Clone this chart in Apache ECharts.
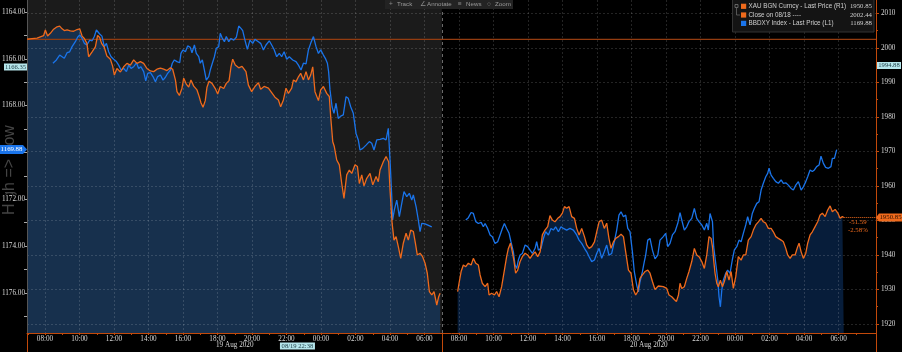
<!DOCTYPE html>
<html><head><meta charset="utf-8">
<script src="https://cdn.jsdelivr.net/npm/echarts@6/dist/echarts.min.js"></script>
<style>html,body{margin:0;padding:0;background:#000;}#c{width:902px;height:352px;}</style>
</head><body><div id="c"></div>
<script>
// ---- time is in hours since 19 Aug 2020 00:00 ----
const xauDay1 = [[6.96,2002.5],[7.54,2002.8],[7.92,2003.5],[8.02,2005.2],[8.15,2003.4],[8.31,2004.2],[8.50,2005.4],[8.70,2006.1],[8.85,2006.3],[8.99,2005.5],[9.12,2005.0],[9.28,2005.2],[9.47,2004.9],[9.66,2004.8],[9.86,2005.3],[10.01,2005.5],[10.15,2003.4],[10.28,2002.7],[10.43,2001.3],[10.53,1997.4],[10.63,1996.9],[10.74,1998.9],[10.92,2000.3],[11.05,2003.6],[11.17,2003.0],[11.28,2001.3],[11.44,2000.1],[11.59,1997.6],[11.79,1996.7],[11.92,1994.7],[12.02,1992.1],[12.17,1994.0],[12.37,1993.0],[12.56,1994.5],[12.75,1995.5],[12.95,1995.0],[13.14,1996.5],[13.33,1995.5],[13.53,1996.0],[13.72,1995.5],[13.91,1994.0],[14.11,1993.3],[14.30,1993.1],[14.49,1993.8],[14.69,1994.1],[14.88,1993.8],[15.07,1993.4],[15.27,1994.2],[15.40,1993.8],[15.56,1990.7],[15.65,1987.3],[15.79,1986.2],[15.94,1988.3],[16.04,1991.2],[16.19,1989.5],[16.33,1988.6],[16.46,1990.7],[16.62,1988.9],[16.81,1987.8],[16.93,1986.0],[17.04,1984.1],[17.16,1982.8],[17.29,1984.7],[17.39,1988.6],[17.51,1990.3],[17.68,1989.7],[17.87,1988.2],[18.01,1986.6],[18.16,1988.8],[18.36,1988.2],[18.51,1989.7],[18.67,1990.5],[18.78,1994.5],[18.88,1996.7],[19.03,1995.0],[19.23,1994.2],[19.42,1994.6],[19.50,1994.5],[19.65,1993.1],[19.79,1989.2],[19.98,1987.3],[20.17,1988.8],[20.37,1989.9],[20.50,1988.0],[20.70,1988.8],[20.95,1988.3],[21.14,1987.0],[21.33,1985.7],[21.53,1984.9],[21.66,1982.9],[21.82,1984.9],[21.97,1988.3],[22.11,1986.8],[22.30,1988.3],[22.40,1990.7],[22.55,1990.2],[22.69,1991.6],[22.82,1992.6],[22.98,1990.7],[23.13,1993.1],[23.27,1990.7],[23.40,1992.1],[23.52,1994.5],[23.65,1987.3],[23.85,1984.7],[23.98,1987.8],[24.14,1988.8],[24.33,1986.8],[24.48,1985.9],[24.56,1980.1],[24.68,1972.8],[24.77,1971.4],[24.91,1967.5],[25.06,1966.1],[25.20,1960.7],[25.33,1956.4],[25.49,1963.2],[25.64,1964.6],[25.78,1963.6],[25.97,1966.1],[26.11,1965.6],[26.22,1960.7],[26.36,1963.2],[26.49,1960.0],[26.65,1962.2],[26.84,1963.6],[27.00,1960.3],[27.19,1962.7],[27.32,1961.2],[27.42,1964.6],[27.61,1967.0],[27.77,1968.5],[27.92,1967.0],[28.00,1958.8],[28.12,1949.2],[28.23,1944.3],[28.35,1945.3],[28.48,1942.4],[28.62,1939.0],[28.77,1943.4],[28.93,1946.3],[29.06,1944.3],[29.20,1947.2],[29.35,1946.8],[29.47,1943.4],[29.58,1940.0],[29.74,1940.5],[29.89,1939.5],[30.03,1937.6],[30.16,1934.7],[30.28,1929.4],[30.42,1928.4],[30.55,1929.4],[30.71,1925.5],[30.82,1927.9],[30.90,1928.9]];
const xauDay2 = [[31.92,1929.4],[32.00,1931.8],[32.12,1935.2],[32.25,1937.1],[32.39,1936.6],[32.54,1937.6],[32.70,1937.1],[32.83,1939.0],[32.97,1937.6],[33.12,1937.1],[33.22,1934.2],[33.35,1931.8],[33.51,1930.8],[33.66,1931.8],[33.74,1928.4],[33.89,1928.9],[34.05,1928.4],[34.18,1929.4],[34.32,1927.9],[34.47,1930.8],[34.63,1935.6],[34.76,1939.5],[34.86,1941.9],[34.98,1943.4],[35.09,1940.9],[35.19,1938.1],[35.28,1934.7],[35.40,1935.6],[35.54,1938.1],[35.67,1939.5],[35.83,1940.5],[35.98,1940.0],[36.12,1939.0],[36.25,1940.0],[36.41,1940.9],[36.56,1939.5],[36.70,1940.9],[36.83,1945.8],[36.98,1947.2],[37.14,1948.2],[37.27,1951.4],[37.41,1950.1],[37.56,1949.6],[37.72,1950.6],[37.85,1951.1],[37.99,1952.1],[38.11,1954.0],[38.24,1953.5],[38.38,1954.0],[38.53,1951.1],[38.69,1950.6],[38.82,1947.7],[38.96,1945.8],[39.11,1947.7],[39.27,1945.3],[39.40,1942.9],[39.54,1941.9],[39.69,1942.4],[39.85,1943.8],[39.98,1946.7],[40.12,1949.6],[40.27,1950.1],[40.42,1947.7],[40.56,1949.2],[40.69,1944.8],[40.81,1941.9],[40.95,1943.8],[41.08,1944.8],[41.24,1945.3],[41.39,1946.0],[41.53,1945.3],[41.66,1940.9],[41.82,1935.6],[41.97,1934.7],[42.11,1929.9],[42.24,1928.4],[42.36,1929.4],[42.49,1933.2],[42.63,1934.2],[42.78,1935.2],[42.94,1935.6],[43.07,1934.7],[43.21,1932.3],[43.36,1930.0],[43.55,1931.0],[43.84,1930.8],[44.04,1930.3],[44.17,1928.4],[44.33,1927.9],[44.48,1927.1],[44.60,1926.5],[44.72,1928.4],[44.81,1931.8],[44.91,1930.3],[45.06,1930.8],[45.20,1933.2],[45.33,1935.2],[45.49,1938.1],[45.64,1941.9],[45.78,1940.0],[45.91,1939.5],[46.07,1938.1],[46.22,1936.1],[46.36,1940.0],[46.49,1945.3],[46.61,1944.8],[46.69,1942.4],[46.76,1938.5],[46.84,1934.7],[46.94,1931.8],[47.03,1930.8],[47.15,1932.7],[47.27,1930.8],[47.38,1932.3],[47.52,1935.2],[47.65,1932.7],[47.77,1935.2],[47.90,1930.3],[48.04,1933.7],[48.19,1939.5],[48.35,1938.5],[48.48,1940.0],[48.62,1940.0],[48.77,1944.3],[48.93,1945.3],[49.06,1947.2],[49.20,1948.7],[49.35,1949.6],[49.51,1950.6],[49.64,1949.6],[49.78,1949.2],[49.93,1947.7],[50.09,1947.7],[50.22,1946.7],[50.36,1945.3],[50.51,1944.8],[50.67,1944.3],[50.80,1943.8],[50.94,1941.9],[51.05,1940.0],[51.19,1939.0],[51.32,1940.0],[51.48,1940.0],[51.63,1942.4],[51.71,1943.4],[51.83,1940.9],[51.96,1939.0],[52.10,1940.5],[52.21,1943.4],[52.35,1945.8],[52.48,1946.7],[52.64,1948.2],[52.79,1949.6],[52.93,1951.6],[53.06,1952.1],[53.22,1951.1],[53.37,1953.0],[53.51,1954.2],[53.64,1952.5],[53.80,1953.2],[53.95,1952.2],[54.09,1950.6],[54.22,1951.1],[54.30,1950.85]];
const dxyDay1 = [[8.46,1166.19],[8.66,1166.05],[8.85,1165.84],[8.99,1165.91],[9.12,1165.98],[9.28,1165.74],[9.43,1165.70],[9.57,1165.48],[9.76,1165.27],[9.89,1165.08],[10.01,1164.98],[10.15,1165.13],[10.28,1165.34],[10.43,1165.41],[10.59,1165.20],[10.73,1165.23],[10.86,1165.05],[10.98,1164.77],[11.05,1164.70],[11.17,1164.94],[11.30,1165.03],[11.44,1165.48],[11.56,1165.34],[11.69,1165.70],[11.83,1165.91],[11.98,1166.02],[12.14,1166.12],[12.27,1166.27],[12.41,1166.48],[12.56,1166.41],[12.72,1166.55],[12.85,1166.27],[12.99,1166.41],[13.14,1166.34],[13.30,1166.17],[13.43,1166.41],[13.56,1166.34],[13.72,1166.55],[13.84,1166.94],[13.95,1166.62],[14.11,1166.59],[14.26,1166.76],[14.40,1166.98],[14.53,1166.76],[14.69,1166.69],[14.84,1166.91],[14.98,1166.79],[15.11,1166.62],[15.27,1166.48],[15.38,1166.19],[15.50,1166.05],[15.65,1166.12],[15.81,1166.17],[15.88,1165.77],[16.00,1165.62],[16.14,1165.70],[16.27,1165.45],[16.42,1165.51],[16.52,1165.74],[16.66,1165.41],[16.77,1165.77],[16.91,1165.91],[17.00,1166.19],[17.12,1166.05],[17.24,1166.48],[17.35,1166.91],[17.49,1166.76],[17.58,1166.48],[17.70,1166.19],[17.82,1165.91],[17.93,1165.55],[18.07,1165.48],[18.16,1164.91],[18.28,1165.13],[18.40,1165.27],[18.51,1165.05],[18.65,1165.27],[18.78,1165.13],[18.94,1165.20],[19.09,1165.08],[19.23,1164.60],[19.36,1164.70],[19.46,1164.80],[19.59,1165.20],[19.73,1165.60],[19.88,1165.20],[20.04,1165.34],[20.17,1165.17],[20.37,1165.27],[20.50,1165.34],[20.66,1165.62],[20.81,1165.41],[21.00,1165.23],[21.14,1165.41],[21.28,1165.60],[21.43,1165.91],[21.58,1165.77],[21.72,1165.91],[21.86,1165.70],[22.01,1166.02],[22.16,1165.91],[22.36,1166.05],[22.55,1166.12],[22.69,1166.27],[22.84,1166.48],[22.98,1166.19],[23.13,1166.22],[23.27,1165.62],[23.40,1165.34],[23.56,1165.05],[23.71,1165.48],[23.85,1165.77],[23.98,1165.62],[24.14,1165.84],[24.25,1165.98],[24.37,1166.19],[24.44,1166.55],[24.52,1167.33],[24.64,1168.05],[24.75,1168.33],[24.87,1167.90],[25.00,1168.55],[25.14,1168.45],[25.29,1168.40],[25.45,1167.62],[25.58,1167.69],[25.72,1168.05],[25.87,1168.33],[26.03,1169.19],[26.16,1169.47],[26.26,1169.90],[26.42,1169.83],[26.61,1169.69],[26.80,1169.54],[26.94,1169.61],[27.07,1169.90],[27.23,1169.47],[27.42,1169.44],[27.61,1169.40],[27.77,1169.47],[27.90,1168.97],[28.00,1170.33],[28.10,1171.89],[28.15,1172.89],[28.25,1172.46],[28.39,1172.04],[28.54,1172.75],[28.68,1172.18],[28.81,1171.68],[28.97,1171.89],[29.12,1171.75],[29.26,1172.04],[29.35,1171.82],[29.51,1172.32],[29.64,1172.89],[29.74,1173.39],[29.84,1173.03],[30.03,1173.06],[30.42,1173.18]];
const dxyDay2 = [[32.39,1172.89],[32.54,1172.79],[32.70,1172.57],[32.83,1172.61],[32.97,1172.96],[33.12,1173.04],[33.28,1172.99],[33.41,1173.18],[33.51,1173.04],[33.66,1173.25],[33.80,1173.53],[33.93,1173.61],[34.09,1173.89],[34.24,1173.82],[34.38,1173.53],[34.51,1173.25],[34.63,1173.04],[34.76,1173.25],[34.90,1173.46],[35.01,1173.82],[35.15,1174.25],[35.25,1174.82],[35.34,1174.96],[35.44,1174.60],[35.54,1174.39],[35.67,1174.32],[35.83,1173.96],[35.98,1174.03],[36.12,1174.18],[36.25,1174.32],[36.41,1174.10],[36.50,1173.82],[36.60,1174.18],[36.75,1174.10],[36.89,1173.68],[37.02,1173.39],[37.18,1173.53],[37.33,1173.25],[37.47,1173.32],[37.60,1173.18],[37.76,1173.39],[37.91,1173.18],[38.05,1173.25],[38.24,1173.32],[38.43,1173.25],[38.63,1173.32],[38.82,1173.53],[38.96,1173.75],[39.11,1173.89],[39.27,1174.10],[39.40,1174.25],[39.54,1174.46],[39.69,1174.67],[39.85,1174.60],[39.98,1174.32],[40.12,1174.10],[40.27,1174.53],[40.42,1174.25],[40.56,1173.96],[40.69,1174.39],[40.85,1174.32],[41.00,1173.82],[41.14,1173.32],[41.27,1172.68],[41.39,1172.54],[41.53,1172.75],[41.66,1172.68],[41.78,1173.25],[41.91,1173.39],[42.05,1174.25],[42.16,1175.10],[42.30,1175.67],[42.40,1175.96],[42.49,1175.53],[42.63,1175.10],[42.74,1174.67],[42.82,1174.39],[42.94,1173.75],[43.07,1173.68],[43.21,1174.18],[43.36,1174.55],[43.52,1174.39],[43.65,1173.75],[43.84,1173.60],[43.98,1173.46],[44.10,1174.03],[44.23,1173.89],[44.37,1173.53],[44.52,1173.39],[44.68,1173.03],[44.81,1172.58],[44.91,1172.89],[45.06,1173.32],[45.20,1173.18],[45.33,1172.96],[45.49,1172.82],[45.64,1172.39],[45.78,1172.82],[45.91,1172.96],[46.07,1173.10],[46.22,1173.32],[46.36,1173.03],[46.45,1173.32],[46.55,1172.61],[46.69,1172.96],[46.76,1174.03],[46.88,1174.75],[47.00,1175.46],[47.07,1176.17],[47.15,1176.60],[47.23,1175.89],[47.32,1175.46],[47.46,1175.17],[47.57,1175.03],[47.71,1175.17],[47.84,1174.60],[47.96,1174.17],[48.10,1174.03],[48.23,1173.75],[48.35,1173.82],[48.48,1173.46],[48.62,1173.10],[48.73,1172.75],[48.87,1173.10],[49.00,1172.61],[49.12,1172.39],[49.26,1172.18],[49.39,1172.11],[49.51,1171.61],[49.64,1171.32],[49.78,1171.04],[49.89,1170.90],[49.97,1170.68],[50.09,1170.97],[50.22,1171.11],[50.36,1171.25],[50.51,1171.32],[50.67,1171.18],[50.80,1171.32],[50.94,1171.30],[51.09,1171.40],[51.25,1171.54],[51.38,1171.61],[51.52,1171.40],[51.67,1171.25],[51.83,1171.61],[51.96,1171.47],[52.10,1171.25],[52.21,1171.04],[52.35,1170.75],[52.48,1170.82],[52.60,1170.75],[52.73,1170.61],[52.87,1170.54],[52.98,1170.16],[53.12,1170.47],[53.25,1170.64],[53.41,1170.68],[53.56,1170.61],[53.64,1170.26],[53.76,1170.26],[53.89,1169.88]];

const closeValue = 2002.44;            // Close on 08/18
const crossTime = 22 + 38/60;          // crosshair 08/19 22:38
const crossTimeLabel = '08/19 22:38';
const crossDxy = 1166.35, crossXau = 1994.88;
const sessionBreak = 31;               // 20 Aug 07:00

const xLabelHours = [8,10,12,14,16,18,20,22,24,26,28,30,32,34,36,38,40,42,44,46,48,50,52,54];
const xMinorHours = [7,9,11,13,15,17,19,21,23,25,27,29,31,33,35,37,39,41,43,45,47,49,51,53,55];
const dateTicks = [19, 43];
const dateLabels = ['19 Aug 2020', '20 Aug 2020'];
const leftLabels = [1164,1166,1168,1172,1174,1176];
const leftTicks = [1164,1165,1166,1167,1168,1169,1170,1171,1172,1173,1174,1175,1176,1177];
const rightLabels = [1920,1930,1940,1950,1960,1970,1980,1990,2000,2010];
const rightMinor = [1925,1935,1945,1955,1965,1975,1985,1995,2005];
const legendNames = ['XAU BGN Curncy - Last Price (R1)', 'Close on 08/18 ----', 'BBDXY Index - Last Price (L1)'];
const toolbarItems = [['+','Track'],['∠','Annotate'],['≡','News'],['○','Zoom']];

const X_MIN = 6.9565, X_MAX = 56.17;
const R_MIN = 1917.39, R_MAX = 2013.85;
const L_MIN = 1163.487, L_MAX = 1177.72;

const ORANGE = '#ef6a1c', BLUE = '#1a74ea', CYAN = '#b6e6ec', AX_OR = '#c2490a';
const GRIDC = 'rgba(255,255,255,0.14)';
const NUMFONT = 'Liberation Serif';
const SANS = 'Liberation Sans';

const lastXau = xauDay2[xauDay2.length - 1];
const lastDxy = dxyDay2[dxyDay2.length - 1];
const chg = lastXau[1] - closeValue;
const chgPct = chg / closeValue * 100;

const hh = v => String(((Math.round(v) % 24) + 24) % 24).padStart(2, '0') + ':00';

const chart = echarts.init(document.getElementById('c'));
const option = {
  backgroundColor: '#000',
  animation: false,
  grid: { left: 27, right: 26, top: 0, bottom: 19, outerBoundsMode: 'none', containLabel: false },
  xAxis: [
    { type: 'value', position: 'bottom', min: X_MIN, max: X_MAX, z: 2,
      axisLine: { show: true, lineStyle: { color: AX_OR, width: 1 } },
      axisTick: { show: true, customValues: xLabelHours, length: 2, lineStyle: { color: AX_OR } },
      axisLabel: { customValues: xLabelHours, formatter: hh, color: '#d8d8d8', fontSize: 7.2, fontFamily: NUMFONT, margin: 3 },
      splitLine: { show: true, lineStyle: { color: GRIDC, type: [2, 2], width: 1 } } },
    { type: 'value', position: 'bottom', min: X_MIN, max: X_MAX, z: 2,
      axisLine: { show: false },
      axisTick: { show: true, customValues: xMinorHours, length: 2, lineStyle: { color: AX_OR } },
      axisLabel: { show: false }, splitLine: { show: false } },
    { type: 'value', position: 'bottom', min: X_MIN, max: X_MAX, z: 2,
      axisLine: { show: false },
      axisTick: { show: true, customValues: [X_MIN, sessionBreak, X_MAX], length: 19, lineStyle: { color: AX_OR, width: 1 } },
      axisLabel: { customValues: dateTicks, formatter: v => dateLabels[dateTicks.indexOf(v)] || '', color: '#d8d8d8', fontSize: 7.2, fontFamily: NUMFONT, margin: 9 },
      splitLine: { show: false } }
  ],
  yAxis: [
    { type: 'value', position: 'left', inverse: true, min: L_MIN, max: L_MAX, z: 2,
      axisLine: { show: true, lineStyle: { color: '#555' } },
      axisTick: { show: true, customValues: leftTicks, length: 3, lineStyle: { color: '#aaa' } },
      axisLabel: { customValues: leftLabels, formatter: v => v.toFixed(2), color: '#d8d8d8', fontSize: 7.2, fontFamily: NUMFONT, margin: 2, backgroundColor: '#000', padding: [1, 0] },
      splitLine: { show: false } },
    { type: 'value', position: 'right', min: R_MIN, max: R_MAX, z: 2,
      axisLine: { show: true, lineStyle: { color: AX_OR } },
      axisTick: { show: true, customValues: rightLabels, length: 3, lineStyle: { color: AX_OR } },
      axisLabel: { customValues: rightLabels, formatter: v => String(v), color: '#d8d8d8', fontSize: 7.2, fontFamily: NUMFONT, margin: 5 },
      splitLine: { show: true, lineStyle: { color: GRIDC, type: [2, 2], width: 1 } } },
    { type: 'value', position: 'right', min: R_MIN, max: R_MAX, z: 2,
      axisLine: { show: false },
      axisTick: { show: true, customValues: rightMinor, length: 2, lineStyle: { color: AX_OR } },
      axisLabel: { show: false }, splitLine: { show: false } },
    { type: 'value', position: 'left', inverse: true, min: L_MIN, max: L_MAX, z: 1,
      name: 'High => Low', nameLocation: 'middle', nameGap: 9,
      nameTextStyle: { color: '#444', fontSize: 16, fontFamily: SANS, padding: [0, 7, 0, 0] },
      axisLine: { show: false }, axisTick: { show: false }, axisLabel: { show: false }, splitLine: { show: false } }
  ],
  series: [
    { name: 'session1bg', type: 'line', yAxisIndex: 1, data: [[X_MIN, R_MAX], [sessionBreak, R_MAX]],
      symbol: 'none', silent: true, z: 0, lineStyle: { width: 0, opacity: 0 },
      areaStyle: { color: '#1b1b1b', opacity: 1, origin: 'start' },
      markLine: { silent: true, symbol: 'none', label: { show: false }, animation: false,
        lineStyle: { color: '#6a6a6a', type: [3, 3], width: 1 },
        data: [{ xAxis: sessionBreak }] } },
    { name: 'XAU fill 1', type: 'line', yAxisIndex: 1, data: xauDay1, symbol: 'none', silent: true, z: 1,
      lineStyle: { width: 0, opacity: 0 }, areaStyle: { color: '#17304d', opacity: 1, origin: 'start' } },
    { name: 'XAU fill 2', type: 'line', yAxisIndex: 1, data: xauDay2, symbol: 'none', silent: true, z: 1,
      lineStyle: { width: 0, opacity: 0 }, areaStyle: { color: '#071d3a', opacity: 1, origin: 'start' } },
    { name: 'Close on 08/18', type: 'line', yAxisIndex: 1, data: [[X_MIN, closeValue], [X_MAX, closeValue]],
      symbol: 'none', silent: true, z: 2.5, color: '#933c10',
      lineStyle: { color: '#933c10', type: 'solid', width: 1.4, opacity: 1 } },
    { name: 'BBDXY 1', type: 'line', yAxisIndex: 0, data: dxyDay1, symbol: 'none', z: 3,
      lineStyle: { color: BLUE, width: 1.3 } },
    { name: 'BBDXY 2', type: 'line', yAxisIndex: 0, data: dxyDay2, symbol: 'none', z: 3,
      lineStyle: { color: BLUE, width: 1.3 } },
    { name: 'XAU 1', type: 'line', yAxisIndex: 1, data: xauDay1, symbol: 'none', z: 4,
      lineStyle: { color: ORANGE, width: 1.3 } },
    { name: 'XAU 2', type: 'line', yAxisIndex: 1, data: xauDay2, symbol: 'none', z: 4,
      lineStyle: { color: ORANGE, width: 1.3 },
      markLine: { silent: true, symbol: 'none', label: { show: false }, animation: false,
        lineStyle: { color: ORANGE, type: [1, 1], width: 1 },
        data: [[{ coord: [lastXau[0], lastXau[1]] }, { coord: [X_MAX, lastXau[1]] }]] } }
  ]
};
chart.setOption(option);

// ---- overlay tags, legend and toolbar (positions derived from axes) ----
const yL = v => chart.convertToPixel({ yAxisIndex: 0 }, v);
const yR = v => chart.convertToPixel({ yAxisIndex: 1 }, v);
const xP = v => chart.convertToPixel({ xAxisIndex: 0 }, v);
const txt = (x, y, s, fill, size, family, align) => ({
  type: 'text', x: x, y: y, z: 101,
  style: { text: s, fill: fill, fontSize: size, fontFamily: family, align: align || 'left', textAlign: align || 'left', verticalAlign: 'middle', textVerticalAlign: 'middle' }
});
const els = [];
// crosshair tags
let y = yL(crossDxy);
els.push({ type: 'rect', z: 100, shape: { x: 4, y: y - 3.5, width: 23, height: 7 }, style: { fill: CYAN } });
els.push(txt(15.5, y, crossDxy.toFixed(2), '#1c3c44', 6.6, NUMFONT, 'center'));
y = yR(crossXau);
els.push({ type: 'rect', z: 100, shape: { x: 877, y: y - 3.5, width: 24, height: 7 }, style: { fill: CYAN } });
els.push(txt(889, y, crossXau.toFixed(2), '#1c3c44', 6.6, NUMFONT, 'center'));
let x = xP(crossTime);
els.push({ type: 'rect', z: 100, shape: { x: x - 17.5, y: 342.5, width: 35, height: 7 }, style: { fill: CYAN } });
els.push(txt(x, 346, crossTimeLabel, '#1c3c44', 6.6, NUMFONT, 'center'));
// last value tags
y = yL(lastDxy[1]);
els.push({ type: 'polygon', z: 100, shape: { points: [[0, y - 4.5], [23, y - 4.5], [27, y], [23, y + 4.5], [0, y + 4.5]] }, style: { fill: BLUE } });
els.push(txt(11.5, y, lastDxy[1].toFixed(2), '#ffffff', 6.8, NUMFONT, 'center'));
y = yR(lastXau[1]);
els.push({ type: 'polygon', z: 100, shape: { points: [[876, y], [879, y - 4], [902, y - 4], [902, y + 4], [879, y + 4]] }, style: { fill: ORANGE } });
els.push(txt(890.5, y, lastXau[1].toFixed(2), '#2a1000', 6.8, NUMFONT, 'center'));
els.push(txt(849, y + 5, chg.toFixed(2), ORANGE, 6.8, NUMFONT, 'left'));
els.push(txt(848, y + 12.5, chgPct.toFixed(2) + '%', ORANGE, 6.8, NUMFONT, 'left'));
// legend box
els.push({ type: 'rect', z: 100, shape: { x: 732.5, y: -1, width: 141.5, height: 33 }, style: { fill: '#141414', stroke: '#333', lineWidth: 1 } });
els.push({ type: 'rect', z: 101, shape: { x: 735, y: 4.5, width: 3, height: 3 }, style: { fill: 'none', stroke: '#777', lineWidth: 0.8 } });
els.push({ type: 'polyline', z: 101, shape: { points: [[736.5, 7.5], [736.5, 15], [740, 15]] }, style: { fill: 'none', stroke: '#666', lineWidth: 0.8 } });
const legendColors = [ORANGE, ORANGE, BLUE];
const legendValues = [lastXau[1].toFixed(2), closeValue.toFixed(2), lastDxy[1].toFixed(2)];
const rowY = [6.3, 15, 23.4];
for (let i = 0; i < 3; i++) {
  els.push({ type: 'rect', z: 101, shape: { x: 741, y: rowY[i] - 2.6, width: 5.2, height: 5.2 }, style: { fill: legendColors[i] } });
  els.push(txt(748.5, rowY[i], legendNames[i], '#d0d0d0', 6.3, SANS, 'left'));
  els.push(txt(872, rowY[i], legendValues[i], '#d0d0d0', 6.8, NUMFONT, 'right'));
}
// toolbar
els.push({ type: 'rect', z: 100, shape: { x: 385, y: 0, width: 128, height: 9 }, style: { fill: '#232323' } });
const tbX = [[389, 397], [420, 427], [458, 466], [487, 495]];
toolbarItems.forEach((it, i) => {
  els.push(txt(tbX[i][0], 4.5, it[0], '#8a8a8a', 6.5, SANS, 'left'));
  els.push(txt(tbX[i][1], 4.5, it[1], '#9a9a9a', 6.2, SANS, 'left'));
});
chart.setOption({ graphic: { elements: els } });
</script></body></html>
